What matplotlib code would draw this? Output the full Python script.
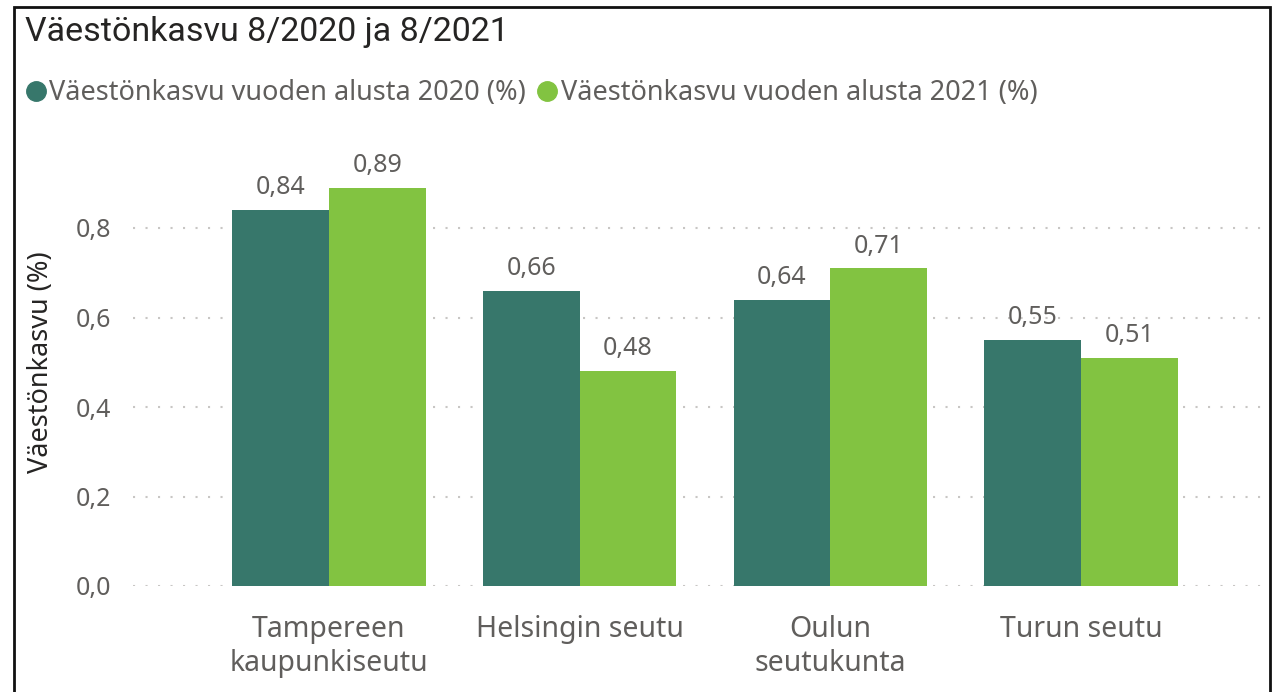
import matplotlib.pyplot as plt
import matplotlib.patches as patches
from matplotlib.lines import Line2D
import numpy as np

# Data
regions = ["Tampereen\nkaupunkiseutu", "Helsingin seutu", "Oulun\nseutukunta", "Turun seutu"]
growth2020 = [0.84, 0.66, 0.64, 0.55]
growth2021 = [0.89, 0.48, 0.71, 0.51]
series_labels = ["Väestönkasvu vuoden alusta 2020 (%)", "Väestönkasvu vuoden alusta 2021 (%)"]
yticks = [0.0, 0.2, 0.4, 0.6, 0.8]

c_dark = "#37776B"
c_green = "#82C341"
c_text = "#605E5C"
c_title = "#252423"

plt.rcParams["font.family"] = ["Noto Sans", "DejaVu Sans"]

fig = plt.figure(figsize=(12.73, 6.92), dpi=100)
ax = fig.add_axes([133 / 1273, 1 - 586 / 692, (1268 - 133) / 1273, (586 - 138.5) / 692])

x = np.arange(len(regions))
w = 0.386
b1 = ax.bar(x - w / 2, growth2020, width=w, color=c_dark, zorder=2)
b2 = ax.bar(x + w / 2, growth2021, width=w, color=c_green, zorder=2)

# value labels above bars
for bars, vals in [(b1, growth2020), (b2, growth2021)]:
    for bar, v in zip(bars, vals):
        ax.annotate(f"{v:.2f}".replace(".", ","), (bar.get_x() + bar.get_width() / 2, v),
                    xytext=(0, 7), textcoords="offset points", ha="center", va="bottom",
                    fontsize=18, color=c_text)

ax.set_xlim(-0.781, 3.745)
ax.set_ylim(0, 1.0)
ax.set_yticks(yticks)
ax.set_yticklabels([f"{t:.1f}".replace(".", ",") for t in yticks], fontsize=18, color=c_text)
ax.set_xticks(x)
ax.set_xticklabels(regions, fontsize=20.5, color=c_text, linespacing=1.2)
ax.tick_params(axis="both", length=0)
ax.tick_params(axis="y", pad=16)
ax.tick_params(axis="x", pad=21)
ax.yaxis.grid(True, color="#C8C6C4", linestyle=(0, (1, 5)), linewidth=1.5, zorder=0)
for s in ax.spines.values():
    s.set_visible(False)

fig.text(41 / 1273, 1 - 362 / 692, "Väestönkasvu (%)", fontsize=19.5, color=c_title,
         rotation=90, ha="center", va="center", weight="medium")

fig.text(25 / 1273, 1 - 32 / 692, "Väestönkasvu 8/2020 ja 8/2021", fontsize=24.5,
         color=c_title, va="center", ha="left",
         family=["Roboto", "DejaVu Sans"])

handles = [Line2D([], [], marker="o", linestyle="", color=c_dark, markersize=14),
           Line2D([], [], marker="o", linestyle="", color=c_green, markersize=14)]
leg = fig.legend(handles, series_labels, loc="center left", bbox_to_anchor=(22 / 1273, 1 - 93 / 692),
                 ncol=2, frameon=False, fontsize=19.5, handletextpad=0.0, columnspacing=0.3,
                 handlelength=1.0, borderpad=0, borderaxespad=0)
for t in leg.get_texts():
    t.set_color(c_text)

border = patches.Rectangle((14 / 1273, -0.1), (1270 - 14) / 1273, 1.1 - 7 / 692,
                           transform=fig.transFigure, fill=False, edgecolor="#111111",
                           linewidth=2, clip_on=False)
fig.patches.append(border)

fig.savefig("out.png", dpi=100)
